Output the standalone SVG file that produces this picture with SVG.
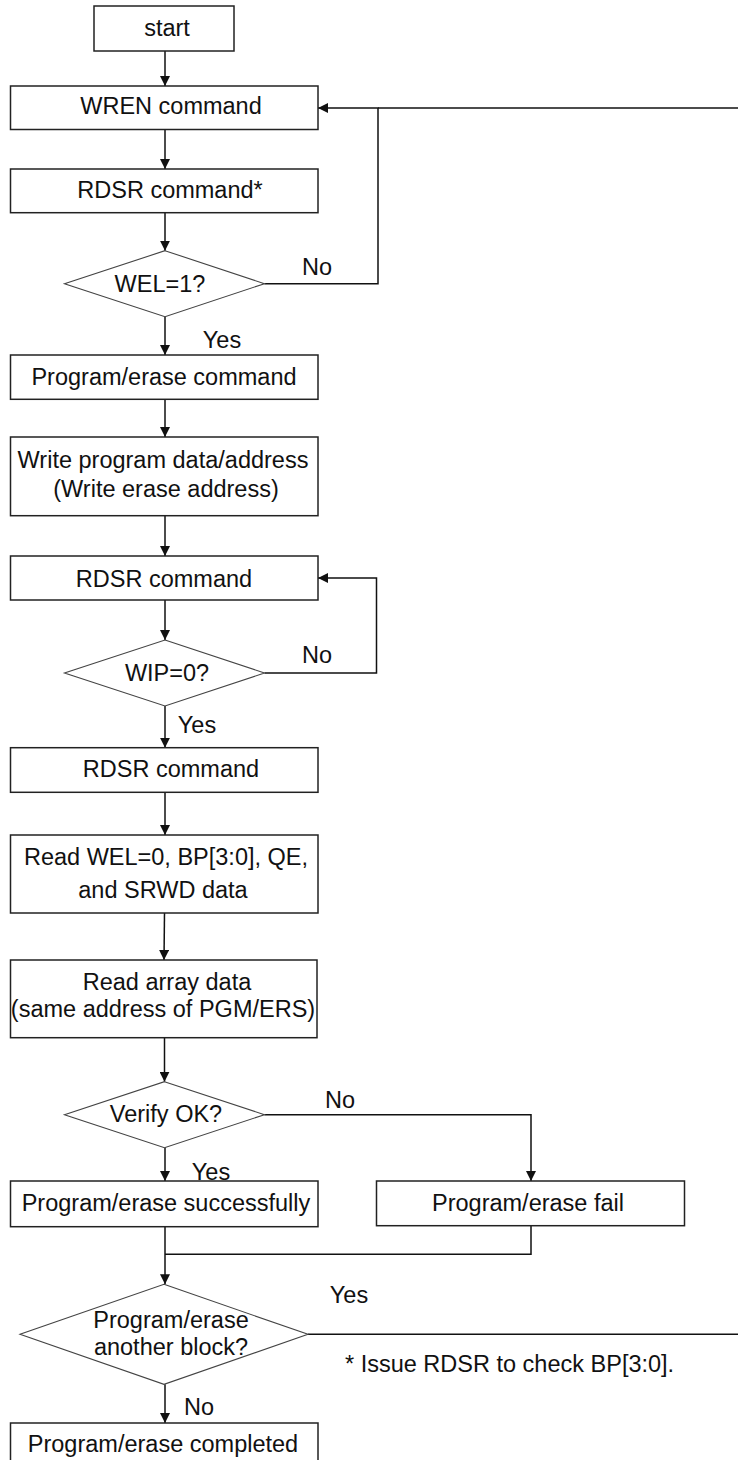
<svg xmlns="http://www.w3.org/2000/svg" width="738" height="1460" viewBox="0 0 738 1460">
<style>
.box{fill:#fff;stroke:#222;stroke-width:1.5}
.dia{fill:#fff;stroke:#444;stroke-width:1.1}
.ln{fill:none;stroke:#111;stroke-width:1.5}
text{font-family:"Liberation Sans",Arial,sans-serif;font-size:23.5px;fill:#111}
.c{text-anchor:middle}
</style>
<defs>
<marker id="ah" viewBox="0 0 10 10" refX="10" refY="5" markerWidth="10" markerHeight="10" markerUnits="userSpaceOnUse" orient="auto">
<path d="M0,0 L10,5 L0,10 Z" fill="#111"/>
</marker>
</defs>
<g id="connectors">
<line class="ln" x1="165" y1="51" x2="165" y2="86" marker-end="url(#ah)"/>
<line class="ln" x1="165" y1="129.5" x2="165" y2="169" marker-end="url(#ah)"/>
<line class="ln" x1="165" y1="212.7" x2="165" y2="250.7" marker-end="url(#ah)"/>
<polyline class="ln" points="264.5,283.7 378,283.7 378,108 318,108" marker-end="url(#ah)"/>
<line class="ln" x1="378" y1="108" x2="738" y2="108"/>
<line class="ln" x1="165" y1="316.7" x2="165" y2="355" marker-end="url(#ah)"/>
<line class="ln" x1="165" y1="399.3" x2="165" y2="437" marker-end="url(#ah)"/>
<line class="ln" x1="165" y1="515.7" x2="165" y2="556" marker-end="url(#ah)"/>
<line class="ln" x1="165" y1="600" x2="165" y2="640" marker-end="url(#ah)"/>
<polyline class="ln" points="264.5,673 376.5,673 376.5,578 318,578" marker-end="url(#ah)"/>
<line class="ln" x1="165" y1="706" x2="165" y2="747.7" marker-end="url(#ah)"/>
<line class="ln" x1="165" y1="792.3" x2="165" y2="835" marker-end="url(#ah)"/>
<line class="ln" x1="164.5" y1="913" x2="164" y2="960" marker-end="url(#ah)"/>
<line class="ln" x1="164.5" y1="1037.7" x2="164.5" y2="1081.7" marker-end="url(#ah)"/>
<polyline class="ln" points="264.5,1114.7 531,1114.7 531,1181" marker-end="url(#ah)"/>
<line class="ln" x1="165" y1="1147.7" x2="165" y2="1181" marker-end="url(#ah)"/>
<line class="ln" x1="165" y1="1226.7" x2="165" y2="1284.3" marker-end="url(#ah)"/>
<polyline class="ln" points="531,1225.7 531,1254.3 165,1254.3"/>
<line class="ln" x1="308" y1="1334.3" x2="738" y2="1334.3"/>
<line class="ln" x1="165" y1="1384.3" x2="165" y2="1423" marker-end="url(#ah)"/>
</g>
<g id="start"><rect class="box" x="94" y="6" width="140" height="45"/><text class="c" x="167" y="36">start</text></g>
<g id="wren"><rect class="box" x="10.5" y="86" width="307.5" height="43.5"/><text class="c" x="171" y="114">WREN command</text></g>
<g id="rdsr1"><rect class="box" x="10.5" y="169" width="307.5" height="43.7"/><text class="c" x="170" y="198">RDSR command*</text></g>
<g id="wel"><polygon class="dia" points="165,250.7 264.5,283.7 165,316.7 64.5,283.7"/><text class="c" x="160" y="292">WEL=1?</text></g>
<g id="pecmd"><rect class="box" x="10.5" y="355" width="307.5" height="44.3"/><text class="c" x="164" y="385">Program/erase command</text></g>
<g id="write"><rect class="box" x="10.5" y="437" width="307.5" height="78.7"/><text class="c" x="163" y="468">Write program data/address</text><text class="c" x="166" y="497">(Write erase address)</text></g>
<g id="rdsr2"><rect class="box" x="10.5" y="556" width="307.5" height="44"/><text class="c" x="164" y="587">RDSR command</text></g>
<g id="wip"><polygon class="dia" points="165,640 264.5,673 165,706 64.5,673"/><text class="c" x="167" y="681">WIP=0?</text></g>
<g id="rdsr3"><rect class="box" x="10.5" y="747.7" width="307.5" height="44.6"/><text class="c" x="171" y="777">RDSR command</text></g>
<g id="readwel"><rect class="box" x="10.5" y="835" width="307.5" height="78"/><text class="c" x="166" y="865">Read WEL=0, BP[3:0], QE,</text><text class="c" x="163" y="898">and SRWD data</text></g>
<g id="readarray"><rect class="box" x="10.5" y="960" width="306.5" height="77.7"/><text class="c" x="167" y="990">Read array data</text><text class="c" x="163" y="1017">(same address of PGM/ERS)</text></g>
<g id="verify"><polygon class="dia" points="164.5,1081.7 264.5,1114.7 164.5,1147.7 64.5,1114.7"/><text class="c" x="166" y="1122">Verify OK?</text></g>
<g id="success"><rect class="box" x="10.5" y="1181" width="307.5" height="45.7"/><text class="c" x="166" y="1211">Program/erase successfully</text></g>
<g id="fail"><rect class="box" x="376.5" y="1181" width="308" height="44.7"/><text class="c" x="528" y="1211">Program/erase fail</text></g>
<g id="another"><polygon class="dia" points="164,1284.3 308,1334.3 164,1384.3 20,1334.3"/><text class="c" x="171" y="1328">Program/erase</text><text class="c" x="171" y="1355">another block?</text></g>
<g id="completed"><rect class="box" x="10.5" y="1423" width="307.5" height="50"/><text class="c" x="163" y="1452">Program/erase completed</text></g>
<g id="labels">
<text class="c" x="317" y="275">No</text>
<text class="c" x="222" y="348">Yes</text>
<text class="c" x="317" y="663">No</text>
<text class="c" x="197" y="733">Yes</text>
<text class="c" x="340" y="1108">No</text>
<text class="c" x="211" y="1180">Yes</text>
<text class="c" x="349" y="1303">Yes</text>
<text x="345" y="1372">* Issue RDSR to check BP[3:0].</text>
<text class="c" x="199" y="1415">No</text>
</g>
</svg>
